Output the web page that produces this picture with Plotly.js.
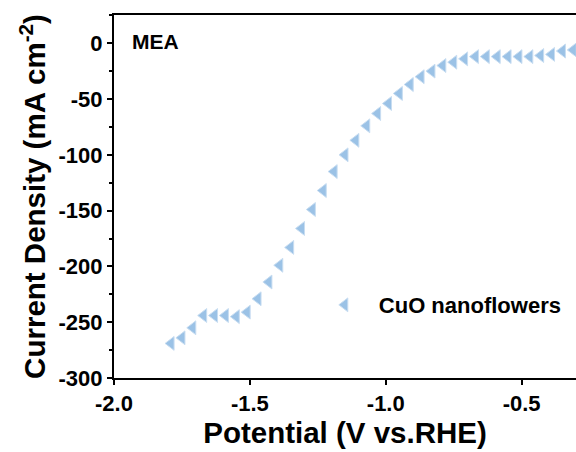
<!DOCTYPE html>
<html>
<head>
<meta charset="utf-8">
<script src="https://cdn.plot.ly/plotly-3.0.1.min.js"></script>
<style>html,body{margin:0;padding:0;background:#fff;}#chart{width:576px;height:452px;}</style>
</head>
<body>
<div id="chart"></div>
<script>
// Data
var seriesName = "CuO nanoflowers";
var potential = [-1.79, -1.75, -1.71, -1.67, -1.63, -1.59, -1.55, -1.51, -1.47, -1.43,
                 -1.39, -1.35, -1.31, -1.27, -1.23, -1.19, -1.15, -1.11, -1.07, -1.03,
                 -0.99, -0.95, -0.91, -0.87, -0.83, -0.79, -0.75, -0.71, -0.67, -0.63,
                 -0.59, -0.55, -0.51, -0.47, -0.43, -0.39, -0.35, -0.31];
var currentDensity = [-269, -264, -255, -244, -244, -244, -245, -241, -229, -214,
                      -199, -183, -166, -149, -132, -115, -100, -87, -74, -63,
                      -54, -45, -37, -30, -25, -20, -17, -14, -12, -12,
                      -12, -12, -12, -12, -11, -10, -7, -6];
var xTickVals = [-2.0, -1.5, -1.0, -0.5];
var xTickText = ["-2.0", "-1.5", "-1.0", "-0.5"];
var yTickVals = [0, -50, -100, -150, -200, -250, -300];
var yTickText = ["0", "-50", "-100", "-150", "-200", "-250", "-300"];
var panelLabel = "MEA";

var fam = "Arial, 'Liberation Sans', sans-serif";
function b(s) { return "<b>" + s + "</b>"; }
var trace = {
  x: potential, y: currentDensity, type: "scatter", mode: "markers", name: b(seriesName),
  marker: {symbol: "triangle-left", size: 12, color: "rgb(155,194,230)",
           line: {color: "rgb(200,221,241)", width: 1}},
  cliponaxis: true
};
var layout = {
  width: 576, height: 452,
  margin: {l: 114, r: 0, t: 15, b: 74},
  paper_bgcolor: "#fff", plot_bgcolor: "#fff",
  showlegend: true,
  legend: {x: 0.426, y: 0.201, xanchor: "left", yanchor: "middle", bgcolor: "rgba(0,0,0,0)",
           itemwidth: 58, font: {family: fam, size: 22, color: "#000"}},
  xaxis: {
    range: [-2.0, -0.3], tickvals: xTickVals, ticktext: xTickText.map(b),
    showgrid: false, zeroline: false, showline: true, linecolor: "#000", linewidth: 2,
    mirror: true, ticks: "outside", ticklen: 5, tickwidth: 2, tickcolor: "#000",
    tickfont: {family: fam, size: 22, color: "#000"},
    title: {text: b("Potential (V vs.RHE)"), standoff: 7,
            font: {family: fam, size: 29.5, color: "#000"}}
  },
  yaxis: {
    range: [-300, 25.3], tickvals: yTickVals, ticktext: yTickText.map(b),
    showgrid: false, zeroline: false, showline: true, linecolor: "#000", linewidth: 2,
    mirror: false, ticks: "outside", ticklen: 5, tickwidth: 2, tickcolor: "#000",
    minor: {dtick: 25, ticks: "outside", ticklen: 3, tickwidth: 2, tickcolor: "#000", showgrid: false},
    tickfont: {family: fam, size: 22, color: "#000"},
    title: {text: b("Current Density (mA cm<sup>-2</sup>)"), standoff: 4,
            font: {family: fam, size: 29.5, color: "#000"}}
  },
  annotations: [{
    text: b(panelLabel), xref: "paper", yref: "paper", x: 0.0346, y: 0.928,
    xanchor: "left", yanchor: "middle", showarrow: false,
    font: {family: fam, size: 21, color: "#000"}
  }]
};
Plotly.newPlot("chart", [trace], layout, {displayModeBar: false, staticPlot: true});
</script>
</body>
</html>
